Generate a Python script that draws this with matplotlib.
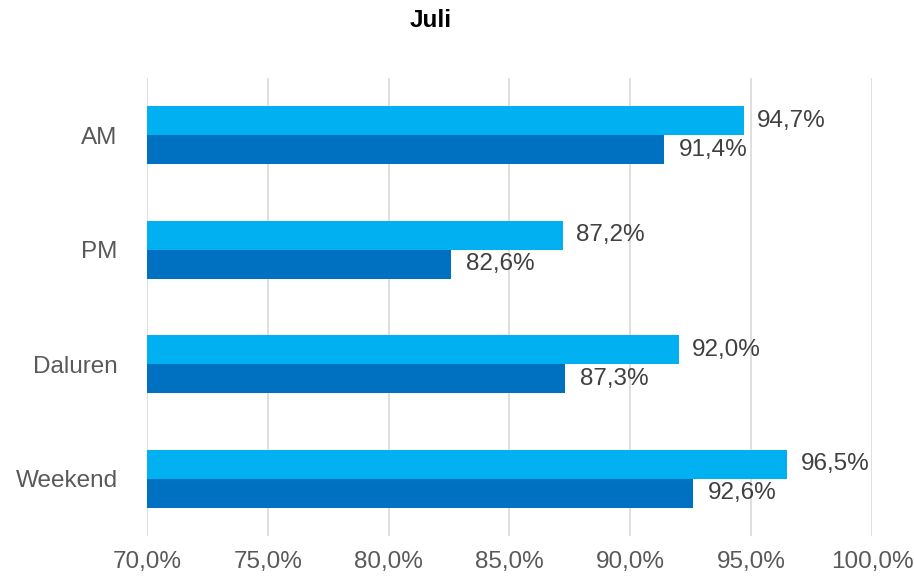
import numpy as np
import matplotlib.pyplot as plt

plt.rcParams['font.family'] = ['Liberation Sans', 'DejaVu Sans']

categories = ['AM', 'PM', 'Daluren', 'Weekend']
light_vals = [94.7, 87.2, 92.0, 96.5]
dark_vals = [91.4, 82.6, 87.3, 92.6]
xticks = [70, 75, 80, 85, 90, 95, 100]

fig = plt.figure(figsize=(9.14, 5.77), dpi=100)
ax = fig.add_axes([0.1608, 0.0711, 0.7932, 0.7938])

y = np.arange(len(categories))
h = 0.255
ax.barh(y - h / 2, np.array(light_vals) - 70, height=h, left=70, color='#00B0F0', zorder=3)
ax.barh(y + h / 2, np.array(dark_vals) - 70, height=h, left=70, color='#0070C0', zorder=3)

fs = 17.5
for i in range(len(categories)):
    ax.text(light_vals[i] + 0.55, y[i] - h / 2, f"{light_vals[i]:.1f}%".replace('.', ','),
            va='center', ha='left', fontsize=fs, color='#404040')
    ax.text(dark_vals[i] + 0.6, y[i] + h / 2, f"{dark_vals[i]:.1f}%".replace('.', ','),
            va='center', ha='left', fontsize=fs, color='#404040')

ax.set_xlim(70, 100)
ax.set_ylim(3.5, -0.5)
ax.set_xticks(xticks)
ax.set_xticklabels([f"{v:.1f}%".replace('.', ',') for v in xticks], fontsize=fs, color='#595959')
ax.set_yticks(y)
ax.set_yticklabels(categories, fontsize=fs, color='#595959')
ax.tick_params(axis='x', length=0, pad=11)
ax.tick_params(axis='y', length=0, pad=21)
ax.grid(axis='x', color='#D9D9D9', linewidth=1.2, zorder=0)
for s in ax.spines.values():
    s.set_visible(False)

fig.text(0.471, 0.965, 'Juli', ha='center', va='center', fontsize=17.5, fontweight='bold')

fig.savefig('out.png', dpi=100)
